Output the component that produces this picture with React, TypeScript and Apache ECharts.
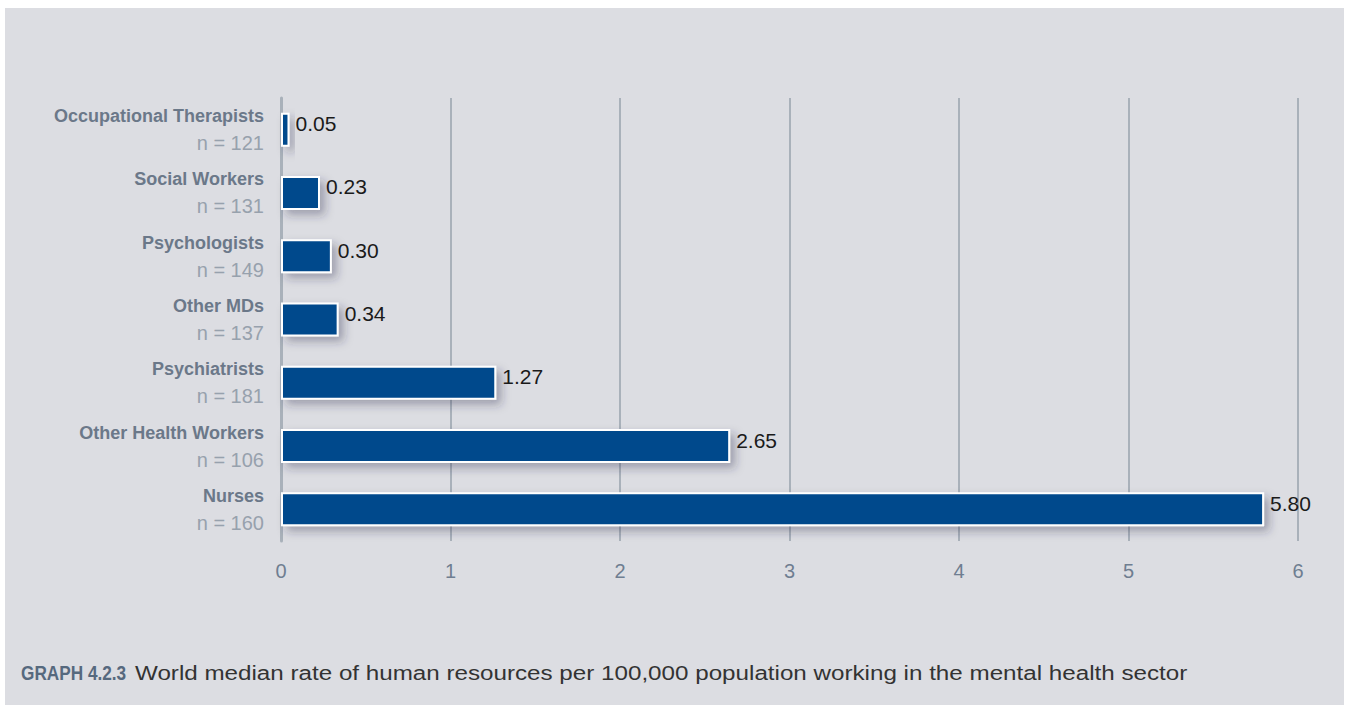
import React, { useEffect, useRef } from "react";
import * as echarts from "echarts";

const categories = [
  "Occupational Therapists",
  "Social Workers",
  "Psychologists",
  "Other MDs",
  "Psychiatrists",
  "Other Health Workers",
  "Nurses",
];
const sampleSizes = [121, 131, 149, 137, 181, 106, 160];
const values = [0.05, 0.23, 0.3, 0.34, 1.27, 2.65, 5.8];
const xTicks = [0, 1, 2, 3, 4, 5, 6];
const captionLabel = "GRAPH 4.2.3";
const captionText =
  "World median rate of human resources per 100,000 population working in the mental health sector";

export default function App() {
  const ref = useRef<HTMLDivElement>(null);
  useEffect(() => {
    if (!ref.current) return;
    const chart = echarts.init(ref.current, null, { renderer: "svg" });
    const font = "'Liberation Sans', Arial, sans-serif";
    chart.setOption({
      animation: false,
      backgroundColor: "#dcdde2",
      grid: { left: 276, right: 46, top: 90, bottom: 164, containLabel: false },
      xAxis: {
        type: "value",
        min: xTicks[0],
        max: xTicks[xTicks.length - 1],
        interval: 1,
        axisLine: { show: false },
        axisTick: { show: false },
        splitLine: { show: true, lineStyle: { color: "#a9b1ba", width: 2 } },
        axisLabel: {
          margin: 20,
          color: "#6f7e91",
          fontSize: 20,
          fontFamily: font,
          formatter: (v: number) => String(v),
        },
      },
      yAxis: {
        type: "category",
        inverse: true,
        data: categories,
        axisLine: { show: true, lineStyle: { color: "#a9b1ba", width: 3 } },
        axisTick: { show: false },
        splitLine: { show: false },
        axisLabel: {
          margin: 17,
          align: "right",
          lineHeight: 27,
          formatter: (v: string, i: number) => `{a|${v}}\n{b|n = ${sampleSizes[i]}}`,
          rich: {
            a: {
              fontFamily: font,
              fontSize: 18,
              fontWeight: "bold",
              color: "#6b7889",
              lineHeight: 27,
              align: "right",
            },
            b: {
              fontFamily: font,
              fontSize: 20,
              color: "#97a1ad",
              lineHeight: 27,
              align: "right",
            },
          },
        },
      },
      series: [
        {
          type: "bar",
          data: values,
          barWidth: 34,
          itemStyle: {
            color: "#02498c",
            borderColor: "#ffffff",
            borderWidth: 2,
            shadowColor: "rgba(40,40,70,0.35)",
            shadowBlur: 10,
            shadowOffsetX: 5,
            shadowOffsetY: 5,
          },
          label: {
            show: true,
            position: "right",
            distance: 6,
            offset: [0, -6],
            color: "#1a1a1a",
            fontSize: 21,
            fontFamily: font,
            formatter: (p: any) => p.value.toFixed(2),
          },
        },
      ],
      graphic: [
        {
          type: "text",
          x: 16,
          y: 665,
          scaleX: 0.82,
          style: {
            text: captionLabel,
            fontFamily: font,
            fontSize: 21,
            fontWeight: "bold",
            fill: "#56697e",
            verticalAlign: "middle",
          },
        },
        {
          type: "text",
          x: 130,
          y: 665,
          scaleX: 1.21,
          style: {
            text: captionText,
            fontFamily: font,
            fontSize: 20,
            fill: "#333333",
            verticalAlign: "middle",
          },
        },
      ],
    });
    return () => chart.dispose();
  }, []);
  return (
    <div style={{ position: "absolute", left: 0, top: 0, width: 1351, height: 705, background: "#ffffff" }}>
      <div
        ref={ref}
        style={{ position: "absolute", left: 5, top: 8, width: 1339, height: 697 }}
      />
    </div>
  );
}
